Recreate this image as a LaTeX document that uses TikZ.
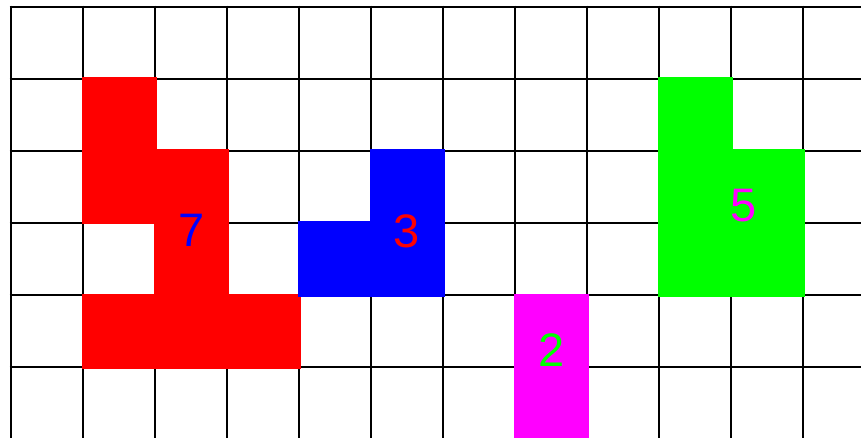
\documentclass[tikz,border=0pt]{standalone}
\usepackage{fontspec}
\setmainfont{Liberation Sans}
\definecolor{cred}{RGB}{255,0,0}
\definecolor{cblue}{RGB}{0,0,255}
\definecolor{cgreen}{RGB}{0,255,0}
\definecolor{cmag}{RGB}{255,0,255}
\tikzset{
  gridline/.style={black, line width=2.7pt},
  piece/.style={fill=#1, draw=#1, line width=3pt, miter limit=10},
  lbl/.style={text=#1, inner sep=0pt, font=\fontsize{47}{47}\selectfont}
}
\begin{document}
\begin{tikzpicture}[x=1pt,y=-1pt]
\useasboundingbox (0,0) rectangle (861,438);
\fill[white] (0,0) rectangle (861,438);
\clip (0,0) rectangle (861,438);
% grid
\foreach \k in {0,...,11} {
  \draw[gridline] ({11+72*\k},5.65) -- ({11+72*\k},445);
}
\foreach \k in {0,...,5} {
  \draw[gridline] (9.65,{7+72*\k}) -- (870,{7+72*\k});
}
% red piece
\path[piece=cred] (83,79) -- (155,79) -- (155,151) -- (227,151) -- (227,295) -- (299,295)
  -- (299,367) -- (83,367) -- (83,295) -- (155,295) -- (155,223) -- (83,223) -- cycle;
% blue piece
\path[piece=cblue] (371,151) -- (443,151) -- (443,295) -- (299,295) -- (299,223) -- (371,223) -- cycle;
% green piece
\path[piece=cgreen] (659,79) -- (731,79) -- (731,151) -- (803,151) -- (803,295) -- (659,295) -- cycle;
% magenta piece
\path[piece=cmag] (515,295) -- (587,295) -- (587,450) -- (515,450) -- cycle;
% labels
\node[lbl=cblue] (l7) at (192,230) {7};
\node[lbl=cred] (l3) at (407,231) {3};
\node[lbl=cmag] (l5) at (744,206) {5};
\node[lbl=cgreen] (l2) at (552,350) {2};
\end{tikzpicture}
\end{document}
